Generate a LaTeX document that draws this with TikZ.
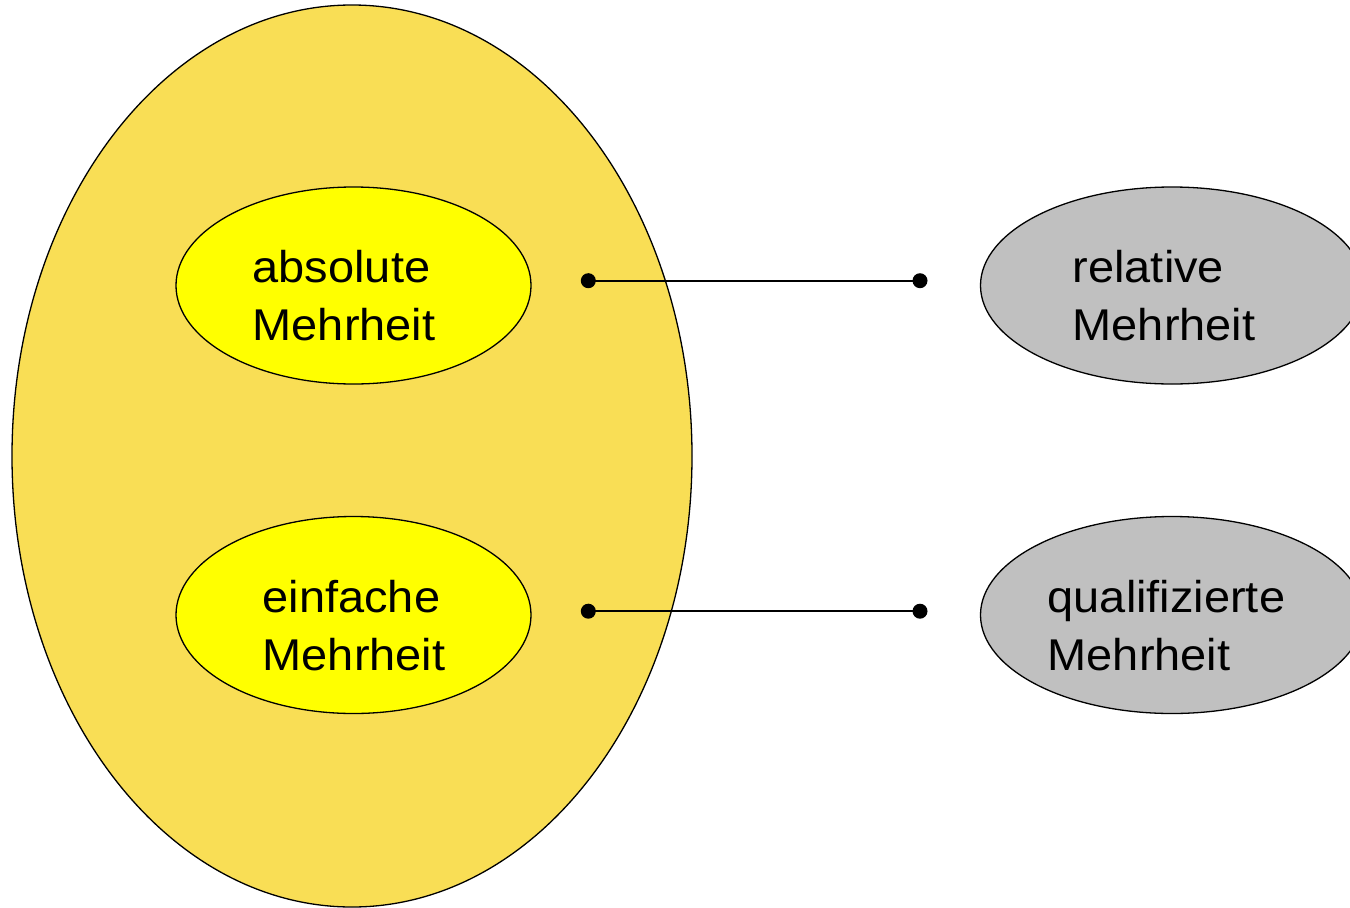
\documentclass[tikz,border=0pt]{standalone}
\usepackage{fontspec}
\setmainfont{Liberation Sans}
\usepackage{graphicx}
\usetikzlibrary{shapes.geometric}
\definecolor{outerfill}{HTML}{F9DE55}
\definecolor{innerfill}{HTML}{FFFF00}
\definecolor{grayfill}{HTML}{C0C0C0}
\newcommand{\twolines}[2]{\scalebox{1.055}[1]{\vtop{\hbox{#1}\hbox{#2}}}}
\tikzset{
  ell/.style={ellipse, draw=black, line width=1.3pt, inner sep=0pt, outer sep=0pt},
  outerell/.style={ell, fill=outerfill, minimum width=680pt, minimum height=902pt},
  yelell/.style={ell, fill=innerfill, minimum width=355pt, minimum height=197pt},
  grayell/.style={ell, fill=grayfill, minimum width=383pt, minimum height=197pt},
  lbl/.style={inner sep=0pt, anchor=base west, text=black, font=\fontsize{44.5}{57.3}\selectfont},
  dotnode/.style={circle, fill=black, inner sep=0pt, minimum size=15pt},
  conn/.style={draw=black, line width=2pt}
}
\begin{document}
\begin{tikzpicture}[x=1pt, y=-1pt]
\useasboundingbox (0,0) rectangle (1350,908);
\node[outerell] (outer) at (352,456) {};
\node[yelell] (abs) at (353.5,285.5) {};
\node[yelell] (einf) at (353.5,615) {};
\node[grayell] (rel) at (1172,285.5) {};
\node[grayell] (qual) at (1172,615) {};
\node[lbl] (absT) at (252.5,282.7) {\twolines{absolute}{Mehrheit}};
\node[lbl] (einfT) at (262.5,612.7) {\twolines{einfache}{Mehrheit}};
\node[lbl] (relT) at (1072.5,282.7) {\twolines{relative}{Mehrheit}};
\node[lbl] (qualT) at (1047.5,612.7) {\twolines{qualifizierte}{Mehrheit}};
\node[dotnode] (p1) at (588.3,280.7) {};
\node[dotnode] (q1) at (920,280.7) {};
\node[dotnode] (p2) at (588.3,611.2) {};
\node[dotnode] (q2) at (920,611.2) {};
\draw[conn] (p1.center) -- (q1.center);
\draw[conn] (p2.center) -- (q2.center);
\end{tikzpicture}
\end{document}
